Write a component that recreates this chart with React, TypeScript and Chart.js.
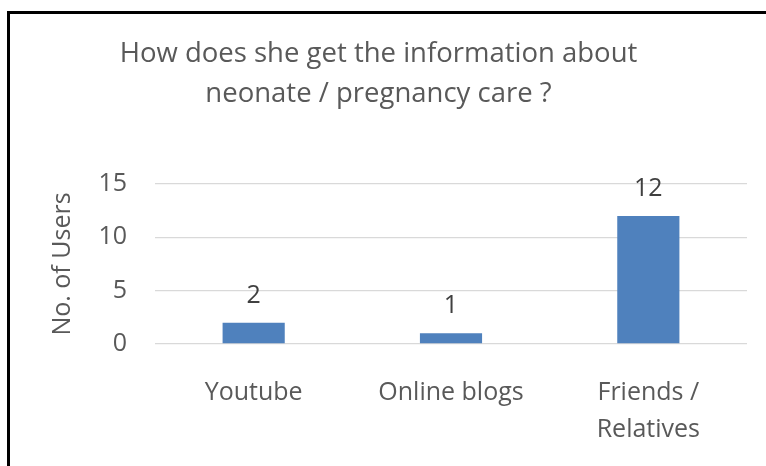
import React, { useEffect, useRef } from "react";
import { Chart, registerables } from "chart.js";

Chart.register(...registerables);

const categories: (string | string[])[] = ["Youtube", "Online blogs", ["Friends /", "Relatives"]];
const users: number[] = [2, 1, 12];
const titleLines: string[] = ["How does she get the information about", "neonate / pregnancy care ?"];
const yAxisTitle = "No. of Users";
const yMin = 0;
const yMax = 15;
const yStep = 5;

const FONT = "'Open Sans'";

const dataLabelPlugin = {
  id: "dataLabels",
  afterDatasetsDraw(chart: any) {
    const ctx = chart.ctx;
    ctx.save();
    ctx.font = `25px ${FONT}`;
    ctx.fillStyle = "#404040";
    ctx.textAlign = "center";
    ctx.textBaseline = "alphabetic";
    chart.data.datasets.forEach((ds: any, di: number) => {
      const meta = chart.getDatasetMeta(di);
      meta.data.forEach((bar: any, i: number) => {
        ctx.fillText(String(ds.data[i]), bar.x, bar.y - 20);
      });
    });
    ctx.restore();
  },
};

export default function App() {
  const ref = useRef<HTMLCanvasElement>(null);

  useEffect(() => {
    if (!ref.current) return;
    const chart = new Chart(ref.current, {
      type: "bar",
      data: {
        labels: categories as any,
        datasets: [
          {
            data: users,
            backgroundColor: "#4F81BD",
            borderWidth: 0,
            barPercentage: 0.315,
            categoryPercentage: 1,
          },
        ],
      },
      options: {
        animation: false,
        responsive: false,
        devicePixelRatio: 1,
        layout: { padding: { left: 0, right: 27, top: 0, bottom: 0 } },
        plugins: {
          legend: { display: false },
          tooltip: { enabled: false },
          title: {
            display: true,
            text: titleLines,
            color: "#595959",
            font: { family: FONT, size: 27.5, weight: "normal", lineHeight: 40 / 27.5 },
            padding: { top: 20, bottom: 70 },
          },
        },
        scales: {
          x: {
            grid: { display: false, drawTicks: false },
            border: { display: false },
            ticks: {
              color: "#595959",
              font: { family: FONT, size: 25, lineHeight: 37 / 25 },
              padding: 30,
              maxRotation: 0,
              autoSkip: false,
            },
            afterFit(scale: any) {
              scale.height = 150;
            },
          },
          y: {
            min: yMin,
            max: yMax,
            grid: { color: "#d9d9d9", lineWidth: 1.3, drawTicks: false },
            border: { display: false },
            ticks: {
              stepSize: yStep,
              color: "#595959",
              font: { family: FONT, size: 25 },
              padding: 28,
            },
            title: {
              display: true,
              text: yAxisTitle,
              color: "#595959",
              font: { family: FONT, size: 25 },
              padding: { top: 38, bottom: 0 },
            },
            afterFit(scale: any) {
              scale.width = 145;
            },
          },
        },
      },
      plugins: [dataLabelPlugin],
    });
    return () => chart.destroy();
  }, []);

  return (
    <div
      style={{
        position: "fixed",
        left: 0,
        top: 0,
        width: 766,
        height: 466,
        overflow: "hidden",
        background: "#ffffff",
      }}
    >
      <div
        style={{
          position: "absolute",
          left: 7,
          top: 11,
          width: 770,
          height: 486,
          border: "3px solid #000000",
          boxSizing: "border-box",
          background: "#ffffff",
        }}
      >
        <canvas ref={ref} width={764} height={480} style={{ display: "block", width: 764, height: 480 }} />
      </div>
    </div>
  );
}
